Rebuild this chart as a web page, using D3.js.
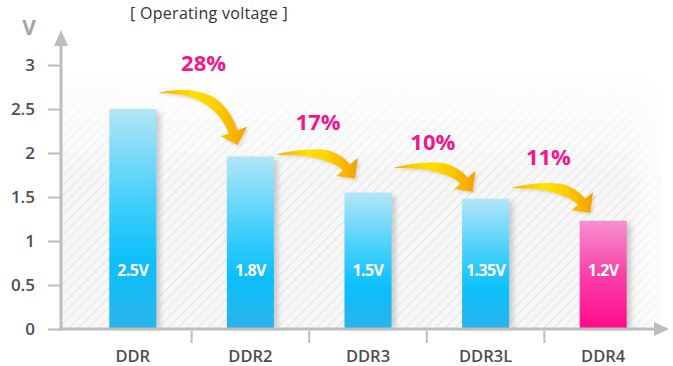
<!DOCTYPE html>
<html>
<head>
<meta charset="utf-8">
<script src="https://cdn.jsdelivr.net/npm/d3@7"></script>
<style>
  html, body { margin: 0; padding: 0; background: #ffffff; }
  svg { display: block; }
  text { font-family: "Open Sans", "DejaVu Sans", sans-serif; }
</style>
</head>
<body>
<svg id="chart" width="673" height="366"></svg>
<script>
// ---------- data ----------
const categories = ["DDR", "DDR2", "DDR3", "DDR3L", "DDR4"];
const barHeights = [2.5, 1.96, 1.55, 1.48, 1.23];          // bar heights as drawn (V)
const valueLabels = ["2.5V", "1.8V", "1.5V", "1.35V", "1.2V"];
const yTicks = [0, 0.5, 1, 1.5, 2, 2.5, 3];
const yTickLabels = ["0", "0.5", "1", "1.5", "2", "2.5", "3"];
const dropLabels = ["28%", "17%", "10%", "11%"];
const arrowStartV = [2.68, 1.98, 1.83, 1.60];   // arrow start level (V)
const arrowTipV   = [2.09, 1.71, 1.56, 1.32];   // arrow tip level (V)
const dropLabelV  = [3.02, 2.35, 2.13, 1.95];   // % label level (V)
const title = "[ Operating voltage ]";
const yUnit = "V";

// ---------- layout ----------
const svg = d3.select("#chart");
const defs = svg.append("defs");

const x = d3.scaleBand().domain(categories).range([74, 662]).paddingInner(0).paddingOuter(0);
const y = d3.scaleLinear().domain([0, 3]).range([329, 65]);
const axisX = 61;
const barW = x.bandwidth() * 0.4;
const cx = c => x(c) + x.bandwidth() / 2;

// hatch pattern
const pat = defs.append("pattern").attr("id", "hatch").attr("patternUnits", "userSpaceOnUse")
  .attr("width", 7).attr("height", 7).attr("patternTransform", "rotate(45)");
pat.append("rect").attr("width", 7).attr("height", 7).attr("fill", "#f7f7f7");
pat.append("line").attr("x1", 0).attr("y1", 0).attr("x2", 0).attr("y2", 7)
  .attr("stroke", "#e3e3e3").attr("stroke-width", 2);

const fadeTop = defs.append("linearGradient").attr("id", "fadeTop").attr("x1", 0).attr("y1", 0).attr("x2", 0).attr("y2", 1);
fadeTop.append("stop").attr("offset", "0%").attr("stop-color", "#fff").attr("stop-opacity", 1);
fadeTop.append("stop").attr("offset", "100%").attr("stop-color", "#fff").attr("stop-opacity", 0);
const fadeRight = defs.append("linearGradient").attr("id", "fadeRight").attr("x1", 0).attr("y1", 0).attr("x2", 1).attr("y2", 0);
fadeRight.append("stop").attr("offset", "0%").attr("stop-color", "#fff").attr("stop-opacity", 0);
fadeRight.append("stop").attr("offset", "100%").attr("stop-color", "#fff").attr("stop-opacity", 1);

// background hatch
svg.append("rect").attr("x", axisX + 1).attr("y", y(2.95)).attr("width", 600).attr("height", y(0) - y(2.95))
  .attr("fill", "url(#hatch)");
svg.append("rect").attr("x", axisX + 1).attr("y", y(2.95) - 1).attr("width", 610).attr("height", y(1.6) - y(2.95))
  .attr("fill", "url(#fadeTop)");
svg.append("rect").attr("x", 625).attr("y", y(2.95) - 1).attr("width", 48).attr("height", y(0) - y(2.95) + 2)
  .attr("fill", "url(#fadeRight)");

// bar gradients
const gBlue = defs.append("linearGradient").attr("id", "gBlue").attr("x1", 0).attr("y1", 0).attr("x2", 0).attr("y2", 1);
[["0%", "#b3e6f7"], ["45%", "#3ccdfc"], ["70%", "#0cbffb"], ["100%", "#2bb3ea"]]
  .forEach(s => gBlue.append("stop").attr("offset", s[0]).attr("stop-color", s[1]));
const gPink = defs.append("linearGradient").attr("id", "gPink").attr("x1", 0).attr("y1", 0).attr("x2", 0).attr("y2", 1);
[["0%", "#f590d0"], ["50%", "#fb3fa8"], ["100%", "#ff0a8a"]]
  .forEach(s => gPink.append("stop").attr("offset", s[0]).attr("stop-color", s[1]));

const blur = defs.append("filter").attr("id", "shadow").attr("x", "-50%").attr("y", "-10%").attr("width", "200%").attr("height", "120%");
blur.append("feGaussianBlur").attr("stdDeviation", 2.5);

// bar shadows
svg.append("g").selectAll("rect").data(categories).join("rect")
  .attr("x", d => cx(d) - barW / 2 + 4)
  .attr("y", (d, i) => y(barHeights[i]) + 3)
  .attr("width", barW)
  .attr("height", (d, i) => y(0) - y(barHeights[i]) - 3)
  .attr("fill", "#b8b8b8").attr("opacity", 0.7).attr("filter", "url(#shadow)");

// bars
svg.append("g").selectAll("rect").data(categories).join("rect")
  .attr("x", d => cx(d) - barW / 2)
  .attr("y", (d, i) => y(barHeights[i]))
  .attr("width", barW)
  .attr("height", (d, i) => y(0) - y(barHeights[i]))
  .attr("fill", (d, i) => i === categories.length - 1 ? "url(#gPink)" : "url(#gBlue)");

// value labels
svg.append("g").selectAll("text").data(categories).join("text")
  .attr("x", d => cx(d))
  .attr("y", 276)
  .attr("text-anchor", "middle")
  .attr("fill", "#ffffff")
  .attr("font-size", 16).attr("font-weight", 700)
  .attr("letter-spacing", -0.6)
  .text((d, i) => valueLabels[i]);

// axes
const axisColor = "#bdbdbd";
svg.append("line").attr("x1", axisX).attr("x2", axisX).attr("y1", y(0) + 1.5).attr("y2", 44)
  .attr("stroke", axisColor).attr("stroke-width", 3);
svg.append("path").attr("d", `M${axisX - 7},46 L${axisX},30 L${axisX + 7},46 Z`).attr("fill", axisColor);
const yAxis = d3.axisLeft(y).tickValues(yTicks).tickSize(13).tickFormat((d, i) => yTickLabels[i]);
const gy = svg.append("g").attr("transform", `translate(${axisX},0)`).call(yAxis);
gy.select(".domain").remove();
gy.selectAll(".tick line").attr("stroke", axisColor).attr("stroke-width", 2);
gy.selectAll(".tick text").attr("x", -26).attr("fill", "#4d4d4d").attr("font-size", 17)
  .attr("font-weight", 600).attr("font-family", "'Open Sans', sans-serif");

svg.append("line").attr("x1", axisX - 1.5).attr("x2", 655).attr("y1", y(0)).attr("y2", y(0))
  .attr("stroke", axisColor).attr("stroke-width", 3);
svg.append("path").attr("d", `M654,${y(0) - 7} L669,${y(0)} L654,${y(0) + 7} Z`).attr("fill", axisColor);
const gx = svg.append("g").attr("transform", `translate(0,${y(0)})`);
gx.selectAll("line").data(categories.slice(1)).join("line")
  .attr("x1", d => x(d)).attr("x2", d => x(d)).attr("y1", 2).attr("y2", 14)
  .attr("stroke", axisColor).attr("stroke-width", 2);
gx.selectAll("text").data(categories).join("text")
  .attr("x", d => cx(d)).attr("y", 33)
  .attr("text-anchor", "middle").attr("fill", "#4d4d4d")
  .attr("font-size", 16.5).attr("font-weight", 600)
  .text(d => d);

// unit and title
svg.append("text").attr("x", 29).attr("y", 35).attr("text-anchor", "middle")
  .attr("fill", "#a6a6a6").attr("font-size", 21).attr("font-weight", 700).text(yUnit);
svg.append("text").attr("x", 209).attr("y", 19).attr("text-anchor", "middle")
  .attr("fill", "#333333").attr("font-size", 16).attr("letter-spacing", 0.3).text(title);

// curved arrows
const gArrow = defs.append("linearGradient").attr("id", "gArrow").attr("x1", 0).attr("y1", 0).attr("x2", 1).attr("y2", 0);
[["0%", "#f6b000"], ["40%", "#ffe000"], ["60%", "#ffd400"], ["100%", "#f3a000"]]
  .forEach(s => gArrow.append("stop").attr("offset", s[0]).attr("stop-color", s[1]));
const ashadow = defs.append("filter").attr("id", "ashadow").attr("x", "-20%").attr("y", "-20%").attr("width", "140%").attr("height", "140%");
ashadow.append("feGaussianBlur").attr("stdDeviation", 1.5);
const headAngle = [70, 50, 50, 50];

function arrowPath(S, T, angDeg) {
  const a = angDeg * Math.PI / 180;
  const dx = Math.cos(a), dy = Math.sin(a);
  const headLen = 14, headHalf = 14;
  const B = [T[0] - dx * headLen, T[1] - dy * headLen];
  // start tangent nearly horizontal, slightly rising
  const sx = 1, sy = -0.12;
  // solve S + u*s = B - v*d
  const det = sx * (-dy) - (-dx) * sy;
  const rx = B[0] - S[0], ry = B[1] - S[1];
  const u = (rx * (-dy) - (-dx) * ry) / det;
  const C = [S[0] + u * sx, S[1] + u * sy];
  const n = 40, top = [], bot = [];
  for (let k = 0; k <= n; k++) {
    const t = k / n;
    const px = (1 - t) * (1 - t) * S[0] + 2 * (1 - t) * t * C[0] + t * t * B[0];
    const py = (1 - t) * (1 - t) * S[1] + 2 * (1 - t) * t * C[1] + t * t * B[1];
    let tx = 2 * (1 - t) * (C[0] - S[0]) + 2 * t * (B[0] - C[0]);
    let ty = 2 * (1 - t) * (C[1] - S[1]) + 2 * t * (B[1] - C[1]);
    const tl = Math.hypot(tx, ty); tx /= tl; ty /= tl;
    const w = 11 * Math.min(1, Math.pow(t / 0.6, 0.8)) * (1 - 0.15 * Math.max(0, t - 0.6) / 0.4);
    top.push([px + ty * w * 0.55, py - tx * w * 0.55]);
    bot.push([px - ty * w * 0.45, py + tx * w * 0.45]);
  }
  const nx = -dy, ny = dx;
  const h1 = [B[0] - nx * headHalf * 1.1, B[1] - ny * headHalf * 1.1];
  const h2 = [B[0] + nx * headHalf * 0.9, B[1] + ny * headHalf * 0.9];
  const pts = top.concat([h1, T, h2]).concat(bot.reverse());
  return "M" + pts.map(p => p[0].toFixed(1) + "," + p[1].toFixed(1)).join("L") + "Z";
}

const arrows = dropLabels.map((lab, i) => {
  const S = [cx(categories[i]) + 25, y(arrowStartV[i])];
  const T = [cx(categories[i + 1]) - 13, y(arrowTipV[i])];
  return { S, T, lab, i };
});
const ga = svg.append("g");
ga.selectAll("path.sh").data(arrows).join("path").attr("class", "sh")
  .attr("d", a => arrowPath(a.S, a.T, headAngle[a.i]))
  .attr("transform", "translate(2,2)")
  .attr("fill", "#b0a080").attr("opacity", 0.35).attr("filter", "url(#ashadow)");
ga.selectAll("path.ar").data(arrows).join("path").attr("class", "ar")
  .attr("d", a => arrowPath(a.S, a.T, headAngle[a.i]))
  .attr("fill", "url(#gArrow)");

// % labels
svg.append("g").selectAll("text").data(arrows).join("text")
  .attr("x", a => (cx(categories[a.i]) + cx(categories[a.i + 1])) / 2 + [12, 9, 6, 4][a.i])
  .attr("y", a => y(dropLabelV[a.i]) + 8)
  .attr("text-anchor", "middle")
  .attr("fill", "#f0188c")
  .attr("font-size", 22).attr("font-weight", 700)
  .text(a => a.lab);
</script>
</body>
</html>
